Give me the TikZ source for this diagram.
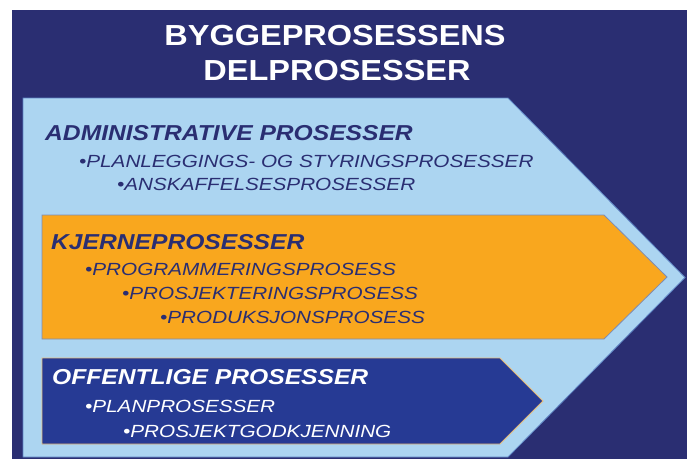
\documentclass[tikz,border=0pt]{standalone}
\usepackage{fontspec}
\newfontfamily\titlefont[FakeStretch=1.12]{Liberation Sans}
\newfontfamily\headfont[FakeStretch=1.14]{Liberation Sans}
\newfontfamily\itemfont[FakeStretch=1.175]{Liberation Sans}
\definecolor{navy}{HTML}{2A2E72}
\definecolor{paleblue}{HTML}{ACD5F1}
\definecolor{paleedge}{HTML}{5E84C4}
\definecolor{amber}{HTML}{F9A71E}
\definecolor{amberedge}{HTML}{7C8CB6}
\definecolor{royal}{HTML}{263A94}
\definecolor{tan}{HTML}{E9BC78}
\tikzset{
  title/.style={text=white, font=\titlefont\bfseries\fontsize{29}{29}\selectfont, inner sep=0pt, anchor=base},
  head/.style={font=\headfont\bfseries\itshape\fontsize{21.6}{21.6}\selectfont, inner sep=0pt, anchor=base west},
  item/.style={font=\itemfont\itshape\fontsize{17.6}{17.6}\selectfont, inner sep=0pt, anchor=base west},
}
\begin{document}
\begin{tikzpicture}[x=1pt,y=-1pt]
\useasboundingbox (0,0) rectangle (687,459);
\fill[white] (0,0) rectangle (687,459);
% background
\fill[navy] (12,10) rectangle (687,459);
\node[title] (t1) at (335,45.5) {BYGGEPROSESSENS};
\node[title] (t2) at (337,80.5) {DELPROSESSER};
% light blue chevron
\draw[fill=paleblue, draw=paleedge, line width=0.8pt] (23,98) -- (508,98) -- (685,277.5) -- (508,457) -- (23,457) -- cycle;
\node[head, text=navy] (adm) at (45,140) {ADMINISTRATIVE PROSESSER};
\node[item, text=navy] (adm1) at (79,167) {•PLANLEGGINGS- OG STYRINGSPROSESSER};
\node[item, text=navy] (adm2) at (117,190) {•ANSKAFFELSESPROSESSER};
% orange chevron
\draw[fill=amber, draw=amberedge, line width=0.8pt] (42,215) -- (604,215) -- (667,277) -- (604,339) -- (42,339) -- cycle;
\node[head, text=navy] (kj) at (51,249) {KJERNEPROSESSER};
\node[item, text=navy] (kj1) at (85,275) {•PROGRAMMERINGSPROSESS};
\node[item, text=navy] (kj2) at (122,299) {•PROSJEKTERINGSPROSESS};
\node[item, text=navy] (kj3) at (160,323) {•PRODUKSJONSPROSESS};
% blue chevron
\draw[fill=royal, draw=tan, line width=0.8pt] (42,358) -- (500,358) -- (543,401) -- (500,444) -- (42,444) -- cycle;
\node[head, text=white] (of) at (52,384) {OFFENTLIGE PROSESSER};
\node[item, text=white] (of1) at (85,412) {•PLANPROSESSER};
\node[item, text=white] (of2) at (123,437) {•PROSJEKTGODKJENNING};
\end{tikzpicture}
\end{document}
